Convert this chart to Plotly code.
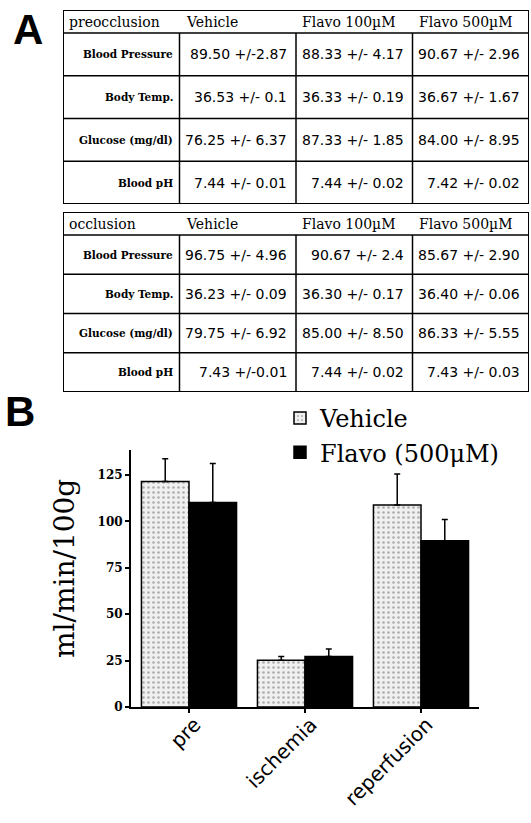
import plotly.graph_objects as go

W, H = 531, 823

# ---------------- data ----------------
table_columns = ["Vehicle", "Flavo 100µM", "Flavo 500µM"]
row_labels = ["Blood Pressure", "Body Temp.", "Glucose (mg/dl)", "Blood pH"]

pre_vehicle = ["89.50 +/-2.87", "36.53 +/- 0.1", "76.25 +/- 6.37", "7.44 +/- 0.01"]
pre_flavo100 = ["88.33 +/- 4.17", "36.33 +/- 0.19", "87.33 +/- 1.85", "7.44 +/- 0.02"]
pre_flavo500 = ["90.67 +/- 2.96", "36.67 +/- 1.67", "84.00 +/- 8.95", "7.42 +/- 0.02"]

occ_vehicle = ["96.75 +/- 4.96", "36.23 +/- 0.09", "79.75 +/- 6.92", "7.43 +/-0.01"]
occ_flavo100 = ["90.67 +/- 2.4", "36.30 +/- 0.17", "85.00 +/- 8.50", "7.44 +/- 0.02"]
occ_flavo500 = ["85.67 +/- 2.90", "36.40 +/- 0.06", "86.33 +/- 5.55", "7.43 +/- 0.03"]

categories = ["pre", "ischemia", "reperfusion"]
vehicle_flow = [121.5, 25.2, 108.8]
vehicle_err = [12.3, 2.0, 16.7]
flavo_flow = [110.2, 27.2, 89.6]
flavo_err = [21.0, 4.0, 11.4]
y_ticks = [0, 25, 50, 75, 100, 125]
y_title = "ml/min/100g"


def px(x):
    return x / W


def py(y):
    return 1 - y / H


fig = go.Figure()
annotations = []
shapes = []
layout_axes = {}

# ---------------- tables (cells placed on their own hidden axes) ----------------
COL_W = (529 - 63) / 4.0


def add_table(idx, title, cols, top, bottom, header_h):
    row_h = (bottom - top - header_h) / 4.0
    hdr = header_h / row_h
    xa, ya = "x%d" % idx, "y%d" % idx
    layout_axes["xaxis%d" % idx] = dict(domain=[px(63), px(529)], range=[-0.5, 3.5],
                                        visible=False, anchor=ya, fixedrange=True)
    layout_axes["yaxis%d" % idx] = dict(domain=[py(bottom), py(top)], range=[3.5, -0.5 - hdr],
                                        visible=False, anchor=xa, fixedrange=True)
    # header
    for j, t in enumerate([title] + table_columns):
        annotations.append(dict(text=t, xref=xa, yref=ya, x=j - 0.5 + 4 / COL_W, y=-0.5 - hdr / 2,
                                xanchor="left", yanchor="middle", showarrow=False,
                                font=dict(family="DejaVu Serif", size=14, color="black")))
    # row labels
    for i, t in enumerate(row_labels):
        annotations.append(dict(text=t, xref=xa, yref=ya, x=0.5 - 5 / COL_W, y=i,
                                xanchor="right", yanchor="middle", showarrow=False,
                                font=dict(family="DejaVu Serif", size=10.5, color="black", weight="bold")))
    # values
    for j, col in enumerate(cols, start=1):
        for i, t in enumerate(col):
            annotations.append(dict(text=t, xref=xa, yref=ya, x=j + 0.5 - 7 / COL_W, y=i,
                                    xanchor="right", yanchor="middle", showarrow=False,
                                    font=dict(family="DejaVu Sans", size=14, color="black")))
    # grid lines
    for k in range(4):
        shapes.append(dict(type="line", xref=xa, yref=ya, x0=-0.5, x1=3.5, y0=k - 0.5, y1=k - 0.5,
                           line=dict(color="black", width=1.5)))
    for j in range(1, 4):
        shapes.append(dict(type="line", xref=xa, yref=ya, x0=j - 0.5, x1=j - 0.5, y0=-0.5, y1=3.5,
                           line=dict(color="black", width=1.5)))
    shapes.append(dict(type="rect", xref=xa, yref=ya, x0=-0.5, x1=3.5, y0=-0.5 - hdr, y1=3.5,
                       line=dict(color="black", width=2)))


add_table(2, "preocclusion", [pre_vehicle, pre_flavo100, pre_flavo500], 10, 204, 23)
add_table(3, "occlusion", [occ_vehicle, occ_flavo100, occ_flavo500], 212, 392, 23)

# ---------------- bar chart ----------------
fig.add_trace(go.Bar(
    x=categories, y=vehicle_flow, name="Vehicle",
    marker=dict(color="#f0f0f0", line=dict(color="black", width=1.5),
                pattern=dict(shape=".", fgcolor="#6a6a6a", bgcolor="#f0f0f0", size=5, solidity=0.22)),
    error_y=dict(type="data", symmetric=False, array=vehicle_err, arrayminus=[0, 0, 0],
                 color="black", thickness=1.5, width=3),
    xaxis="x", yaxis="y",
))
fig.add_trace(go.Bar(
    x=categories, y=flavo_flow, name="Flavo (500μM)",
    marker=dict(color="black", line=dict(color="black", width=1.5)),
    error_y=dict(type="data", symmetric=False, array=flavo_err, arrayminus=[0, 0, 0],
                 color="black", thickness=1.5, width=3),
    xaxis="x", yaxis="y",
))

annotations += [
    dict(text="<b>A</b>", x=px(11), y=py(4), xref="paper", yref="paper",
         xanchor="left", yanchor="top", showarrow=False,
         font=dict(family="Liberation Sans", size=42, color="black")),
    dict(text="<b>B</b>", x=px(3), y=py(386), xref="paper", yref="paper",
         xanchor="left", yanchor="top", showarrow=False,
         font=dict(family="Liberation Sans", size=42, color="black")),
    dict(text=y_title, x=px(64), y=py(569), xref="paper", yref="paper",
         xanchor="center", yanchor="middle", showarrow=False, textangle=-90,
         font=dict(family="DejaVu Serif", size=28, color="black")),
]

fig.update_layout(
    width=W, height=H,
    margin=dict(l=0, r=0, t=0, b=0),
    paper_bgcolor="white", plot_bgcolor="white",
    barmode="group", bargap=0.18, bargroupgap=0,
    showlegend=True,
    legend=dict(x=px(280), y=py(396), xanchor="left", yanchor="top",
                font=dict(family="DejaVu Serif", size=24, color="black"),
                bgcolor="rgba(0,0,0,0)", borderwidth=0),
    xaxis=dict(domain=[px(131), px(479)], anchor="y", range=[-0.5, 2.5],
               showline=True, linecolor="black", linewidth=2,
               ticks="outside", ticklen=4, tickwidth=1.5, tickcolor="black",
               tickangle=-45, showgrid=False, zeroline=False,
               ticklabelstandoff=-8, ticklabelshift=6,
               tickfont=dict(family="DejaVu Sans", size=20, color="black"),
               automargin=False),
    yaxis=dict(domain=[py(707), py(450)], anchor="x", range=[0, 138.5],
               showline=True, linecolor="black", linewidth=2,
               ticks="outside", ticklen=4, tickwidth=1.5, tickcolor="black",
               tickvals=y_ticks, showgrid=False, zeroline=False,
               tickfont=dict(family="DejaVu Serif", size=12, color="black", weight="bold"),
               automargin=False),
    annotations=annotations,
    shapes=shapes,
    **layout_axes,
)

fig.write_html("out.html", config={"displayModeBar": False},
               post_script="document.body.style.margin='0';")
